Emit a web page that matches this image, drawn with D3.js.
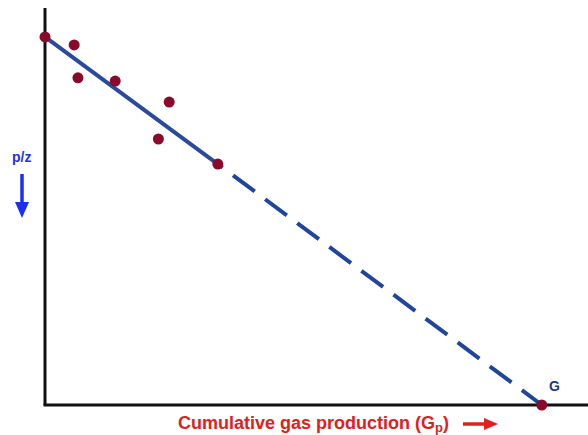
<!DOCTYPE html>
<html><head><meta charset="utf-8">
<script src="https://cdn.jsdelivr.net/npm/d3@7/dist/d3.min.js"></script>
<style>body{margin:0;background:#fff}svg{display:block}</style>
</head><body>
<script>
// Data (arbitrary units: Gp 0-100, p/z 0-100)
const gp = [0, 5.4, 6.1, 13.0, 23.0, 21.0, 32.0, 92.0];
const pz = [92.7, 90.7, 82.4, 81.6, 76.3, 67.0, 60.7, 0];
const solidLine = {x: [0, 32.0], y: [92.7, 60.7]};
const dashLine = {x: [32.0, 92.0], y: [60.7, 0]};

const W = 588, H = 435;
const svg = d3.select("body").append("svg").attr("width", W).attr("height", H);
const x = d3.scaleLinear().domain([0, 100]).range([45, 585]);
const y = d3.scaleLinear().domain([0, 100]).range([405, 8]);

// axes
svg.append("line").attr("x1", x(0)).attr("x2", x(0)).attr("y1", y(100)).attr("y2", y(0))
  .attr("stroke", "#111").attr("stroke-width", 3);
svg.append("line").attr("x1", x(0) - 1.5).attr("x2", W).attr("y1", y(0)).attr("y2", y(0))
  .attr("stroke", "#111").attr("stroke-width", 3);

const line = d3.line().x(d => x(d[0])).y(d => y(d[1]));
svg.append("path").attr("d", line(d3.zip(solidLine.x, solidLine.y)))
  .attr("stroke", "#2a4a9c").attr("stroke-width", 4).attr("fill", "none");
svg.append("path").attr("d", line(d3.zip(dashLine.x, dashLine.y)))
  .attr("stroke", "#1f459c").attr("stroke-width", 4).attr("fill", "none")
  .attr("stroke-dasharray", "27,13").attr("stroke-dashoffset", 21);

svg.selectAll("circle").data(d3.zip(gp, pz)).join("circle")
  .attr("cx", d => x(d[0])).attr("cy", d => y(d[1])).attr("r", 5.5)
  .attr("fill", "#8a0a2c");

// labels
svg.append("text").attr("x", 12).attr("y", 162).text("p/z")
  .attr("font-family", "Liberation Sans, Arial, sans-serif").attr("font-weight", "bold")
  .attr("font-size", 14).attr("fill", "#2233dd");
svg.append("line").attr("x1", 22).attr("x2", 22).attr("y1", 174).attr("y2", 204)
  .attr("stroke", "#1a2ff0").attr("stroke-width", 3.5);
svg.append("path").attr("d", "M15,202 L29,202 L22,218 Z").attr("fill", "#1a2ff0");

svg.append("text").attr("x", 549).attr("y", 391).text("G")
  .attr("font-family", "Liberation Sans, Arial, sans-serif").attr("font-weight", "bold")
  .attr("font-size", 14).attr("fill", "#1b3a8c");

const xl = svg.append("text").attr("x", 178).attr("y", 429)
  .attr("font-family", "Liberation Sans, Arial, sans-serif").attr("font-weight", "bold")
  .attr("font-size", 18).attr("fill", "#e02020");
xl.append("tspan").text("Cumulative gas production (G");
xl.append("tspan").text("p").attr("font-size", 13).attr("dy", 3);
xl.append("tspan").text(")").attr("dy", -3);

svg.append("line").attr("x1", 463).attr("x2", 486).attr("y1", 424).attr("y2", 424)
  .attr("stroke", "#e02020").attr("stroke-width", 3.5);
svg.append("path").attr("d", "M484,418 L498,424 L484,430 Z").attr("fill", "#e02020");
</script>
</body></html>
